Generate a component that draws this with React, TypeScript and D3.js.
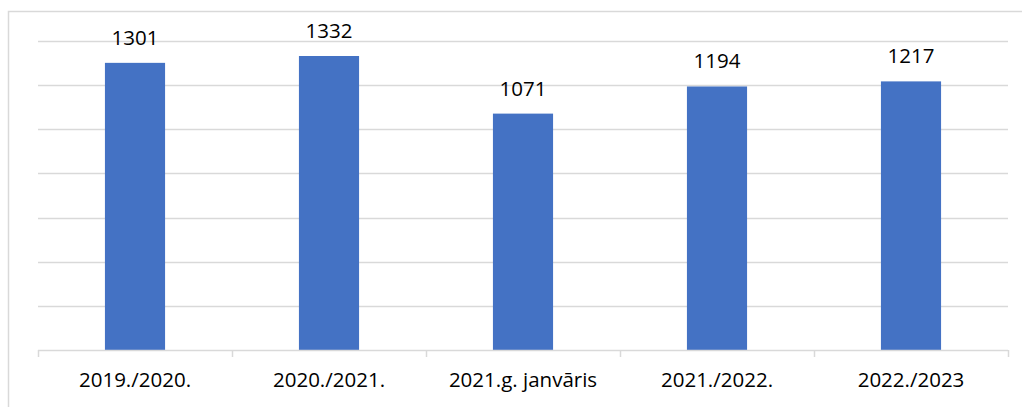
import React, { useRef, useEffect } from 'react';
import * as d3 from 'd3';

const categories = ['2019./2020.', '2020./2021.', '2021.g. janvāris', '2021./2022.', '2022./2023'];
const values = [1301, 1332, 1071, 1194, 1217];
const yTicks = [0, 200, 400, 600, 800, 1000, 1200, 1400];

const W = 1022;
const H = 407;

const App = () => {
  const svgRef = useRef<SVGSVGElement>(null);

  useEffect(() => {
    if (!svgRef.current) return;
    const root = d3.select(svgRef.current);
    root.selectAll('*').remove();

    const left = 38;
    const right = 1008;
    const top = 41;
    const bottom = 350;
    const font = '"Open Sans", "Noto Sans", sans-serif';

    // chart frame (right and bottom edges fall outside the picture)
    root.append('rect')
      .attr('x', 8.5)
      .attr('y', 11.5)
      .attr('width', W + 20)
      .attr('height', H + 20)
      .attr('fill', 'white')
      .attr('stroke', '#d9d9d9')
      .attr('stroke-width', 1.5);

    const x = d3.scaleBand()
      .domain(categories)
      .range([left, right])
      .paddingInner(0.69)
      .paddingOuter(0.345);

    const y = d3.scaleLinear()
      .domain([0, 1400])
      .range([bottom, top]);

    const band = d3.scaleBand().domain(categories).range([left, right]);

    // grid lines
    root.append('g')
      .selectAll('line')
      .data(yTicks.filter(t => t > 0))
      .enter()
      .append('line')
      .attr('x1', left)
      .attr('x2', right)
      .attr('y1', d => Math.round(y(d)) + 0.5)
      .attr('y2', d => Math.round(y(d)) + 0.5)
      .attr('stroke', '#d9d9d9')
      .attr('stroke-width', 1.5);

    // bars
    root.append('g')
      .selectAll('rect')
      .data(values)
      .enter()
      .append('rect')
      .attr('x', (d, i) => x(categories[i])!)
      .attr('y', d => y(d))
      .attr('width', x.bandwidth())
      .attr('height', d => bottom - y(d))
      .attr('fill', '#4472c4');

    // value labels
    root.append('g')
      .selectAll('text')
      .data(values)
      .enter()
      .append('text')
      .attr('x', (d, i) => x(categories[i])! + x.bandwidth() / 2)
      .attr('y', d => y(d) - 18)
      .attr('text-anchor', 'middle')
      .attr('font-family', font)
      .attr('font-size', 20.5)
      .attr('fill', '#000')
      .text(d => d);

    // x axis baseline and ticks
    const axis = root.append('g');
    axis.append('line')
      .attr('x1', left)
      .attr('x2', right)
      .attr('y1', bottom + 0.5)
      .attr('y2', bottom + 0.5)
      .attr('stroke', '#d9d9d9')
      .attr('stroke-width', 1.5);
    const tickXs = categories.map(c => band(c)!).concat([right]);
    axis.selectAll('line.tick')
      .data(tickXs)
      .enter()
      .append('line')
      .attr('class', 'tick')
      .attr('x1', d => Math.round(d) + 0.5)
      .attr('x2', d => Math.round(d) + 0.5)
      .attr('y1', bottom)
      .attr('y2', bottom + 7)
      .attr('stroke', '#d9d9d9')
      .attr('stroke-width', 1.5);

    axis.selectAll('text')
      .data(categories)
      .enter()
      .append('text')
      .attr('x', d => band(d)! + band.bandwidth() / 2)
      .attr('y', 387)
      .attr('text-anchor', 'middle')
      .attr('font-family', font)
      .attr('font-size', 20.5)
      .attr('fill', '#000')
      .text(d => d);
  }, []);

  return (
    <svg
      ref={svgRef}
      width={W}
      height={H}
      style={{ position: 'fixed', left: 0, top: 0, background: 'white' }}
    />
  );
};

export default App;
